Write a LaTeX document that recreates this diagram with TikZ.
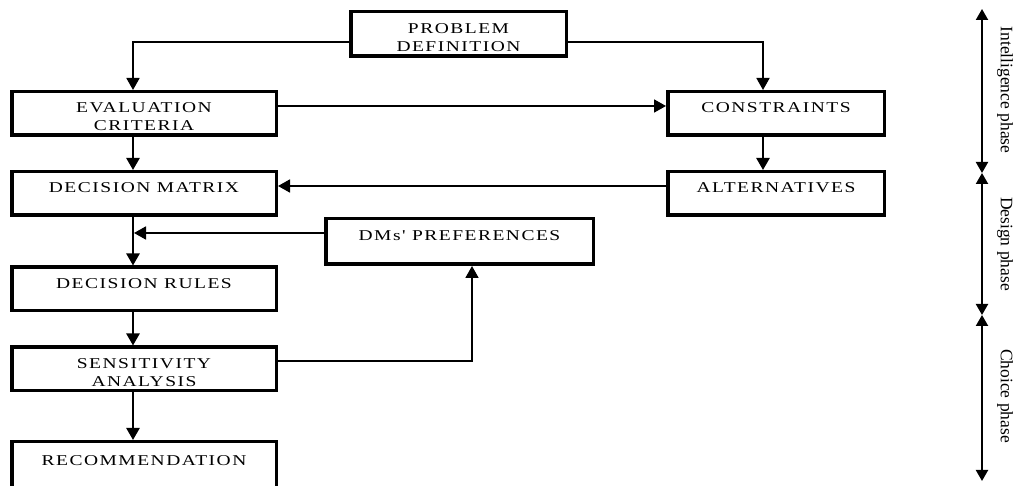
\documentclass[tikz,border=0pt]{standalone}
\usepackage{fontspec}
\setmainfont{Liberation Serif}
\newfontfamily\capsfont[FakeStretch = 1.3, LetterSpace = 10]{Liberation Serif}
\usetikzlibrary{arrows.meta}

\newcommand{\boxtext}[2]{\rule{0pt}{16.5pt}#1\\#2\mbox{}}

\tikzset{
    block/.style = {draw, line width = 3.5pt, inner sep = 0pt, align = center, minimum height = 43.5pt, font = \capsfont\fontsize{15}{18}\selectfont},
    wide/.style = {block, minimum width = 264.5pt},
    side/.style = {block, minimum width = 216.5pt},
    flow/.style = {line width = 2.4pt, -{Triangle[length = 12pt, width = 13pt]}},
    link/.style = {line width = 1.8pt, -{Triangle[length = 12pt, width = 13pt]}},
    phase/.style = {line width = 2pt, {Triangle[length = 11pt, width = 12pt]}-{Triangle[length = 11pt, width = 12pt]}},
    phasename/.style = {rotate = -90, inner sep = 0pt, font = \fontsize{17.5}{21}\selectfont}
}

\begin{document}
\begin{tikzpicture}[x = 1pt, y = -1pt]
    \useasboundingbox (0,0) rectangle (1021,486);
    \clip (0,0) rectangle (1021,486);

    \node[block, minimum width = 215.5pt, minimum height = 44.5pt] (pd) at (458.5,34) {\boxtext{PROBLEM}{DEFINITION}};
    \node[wide] (ec) at (144,113.5) {\boxtext{EVALUATION}{CRITERIA}};
    \node[wide] (dm) at (144,193.5) {\boxtext{DECISION MATRIX}{}};
    \node[wide] (dr) at (144,289) {\boxtext{DECISION RULES}{}};
    \node[wide] (sa) at (144,369) {\boxtext{SENSITIVITY}{ANALYSIS}};
    \node[wide, minimum height = 49.5pt] (rec) at (144,466.5) {\boxtext{RECOMMENDATION}{}};
    \node[side] (con) at (776,113.5) {\boxtext{CONSTRAINTS}{}};
    \node[side] (alt) at (776,193.5) {\boxtext{ALTERNATIVES}{}};
    \node[block, minimum width = 267.5pt, minimum height = 45.5pt] (dmp) at (459.5,241.5) {\boxtext{DMs' PREFERENCES}{}};
    \coordinate (mrg) at (134,233);

    \draw[link] ([yshift = -8pt]pd.west) -| ([xshift = -11pt]ec.north);
    \draw[link] ([yshift = -8pt]pd.east) -| ([xshift = -13pt]con.north);
    \draw[link] ([yshift = 7.5pt]ec.east) -- ([yshift = 7.5pt]con.west);
    \draw[flow] ([xshift = -11pt]ec.south) -- ([xshift = -11pt]dm.north);
    \draw[flow] ([xshift = -13pt]con.south) -- ([xshift = -13pt]alt.north);
    \draw[link] ([yshift = 7.5pt]alt.west) -- ([yshift = 7.5pt]dm.east);
    \draw[flow] ([xshift = -11pt]dm.south) -- ([xshift = -11pt]dr.north);
    \draw[link] ([yshift = 8.5pt]dmp.west) -- (mrg);
    \draw[flow] ([xshift = -11pt]dr.south) -- ([xshift = -11pt]sa.north);
    \draw[flow] ([xshift = -11pt]sa.south) -- ([xshift = -11pt]rec.north);
    \draw[link] ([yshift = 8pt]sa.east) -| ([xshift = 12.5pt]dmp.south);

    % phases
    \coordinate (t0) at (982,9);
    \coordinate (t1) at (982,173);
    \coordinate (t2) at (982,315);
    \coordinate (t3) at (982,481);
    \draw[phase] (t0) -- (t1);
    \draw[phase] (t1) -- (t2);
    \draw[phase] (t2) -- (t3);
    \node[phasename] (ip) at (1005,90) {Intelligence phase};
    \node[phasename] (dp) at (1005,244) {Design phase};
    \node[phasename] (cp) at (1005,396) {Choice phase};
\end{tikzpicture}
\end{document}
